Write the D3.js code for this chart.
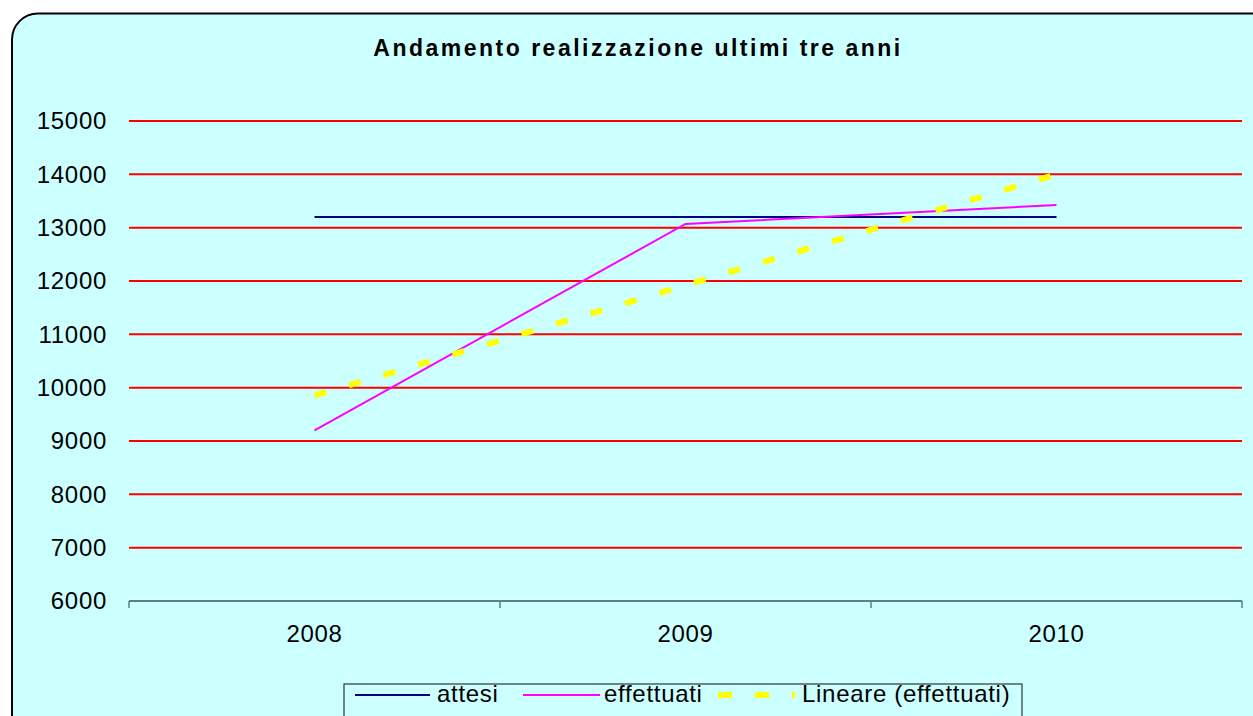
<!DOCTYPE html>
<html>
<head>
<meta charset="utf-8">
<script src="https://cdn.jsdelivr.net/npm/d3@7"></script>
<style>
  html, body { margin: 0; padding: 0; background: #fff; overflow: hidden; }
  text { font-family: "Liberation Sans", Arial, sans-serif; }
</style>
</head>
<body>
<svg width="1253" height="716"></svg>
<script>
let years = ['2008', '2009', '2010'];
let attesi = [13200, 13200, 13200];
let effettuati = [9200, 13070, 13425];
let lineare = [9850, 11920, 14000];
let yTicks = [6000, 7000, 8000, 9000, 10000, 11000, 12000, 13000, 14000, 15000];

let svg = d3.select('svg');

let plotLeft = 129, plotRight = 1242, plotTop = 121, plotBottom = 601;

let x = d3.scaleBand().domain(years).range([plotLeft, plotRight]).padding(0);
let y = d3.scaleLinear().domain([6000, 15000]).range([plotBottom, plotTop]);
let cx = d => x(d) + x.bandwidth() / 2;

// chart frame
svg.append('rect')
    .attr('x', 12).attr('y', 13.5)
    .attr('width', 1320).attr('height', 780)
    .attr('rx', 26).attr('ry', 26)
    .attr('fill', '#CCFFFF')
    .attr('stroke', '#000')
    .attr('stroke-width', 2);

svg.append('text')
    .attr('x', 638).attr('y', 56)
    .attr('text-anchor', 'middle')
    .attr('font-size', 23)
    .attr('font-weight', 'bold')
    .attr('letter-spacing', 2.5)
    .text('Andamento realizzazione ultimi tre anni');

// gridlines
svg.append('g')
    .selectAll('line')
    .data(yTicks.filter(v => v > 6000))
    .enter().append('line')
    .attr('x1', plotLeft).attr('x2', plotRight)
    .attr('y1', d => y(d)).attr('y2', d => y(d))
    .attr('stroke', '#FF0000')
    .attr('stroke-width', 2);

// y labels
svg.append('g')
    .selectAll('text')
    .data(yTicks)
    .enter().append('text')
    .attr('x', 107)
    .attr('y', d => y(d))
    .attr('dy', '0.35em')
    .attr('text-anchor', 'end')
    .attr('font-size', 24)
    .attr('letter-spacing', 0.7)
    .text(d => d);

// x axis
let axis = svg.append('g');
axis.append('line')
    .attr('x1', plotLeft).attr('x2', plotRight)
    .attr('y1', plotBottom).attr('y2', plotBottom)
    .attr('stroke', '#5f7f7a')
    .attr('stroke-width', 2);
axis.selectAll('line.tick')
    .data(years.map(d => x(d)).concat([plotRight]))
    .enter().append('line')
    .attr('class', 'tick')
    .attr('x1', d => d).attr('x2', d => d)
    .attr('y1', plotBottom).attr('y2', plotBottom + 7)
    .attr('stroke', '#5f7f7a')
    .attr('stroke-width', 1.5);
axis.selectAll('text')
    .data(years)
    .enter().append('text')
    .attr('x', d => cx(d))
    .attr('y', 642)
    .attr('text-anchor', 'middle')
    .attr('font-size', 24)
    .attr('letter-spacing', 0.7)
    .text(d => d);

let line = d3.line().x((d, i) => cx(years[i])).y(d => y(d));

svg.append('path')
    .datum(attesi)
    .attr('d', line)
    .attr('fill', 'none')
    .attr('stroke', '#000080')
    .attr('stroke-width', 2);

svg.append('path')
    .datum(effettuati)
    .attr('d', line)
    .attr('fill', 'none')
    .attr('stroke', '#FF00FF')
    .attr('stroke-width', 2);

svg.append('path')
    .datum(lineare)
    .attr('d', line)
    .attr('fill', 'none')
    .attr('stroke', '#FFFF00')
    .attr('stroke-width', 6)
    .attr('stroke-dasharray', '12,24');

// legend
let legend = svg.append('g');
legend.append('rect')
    .attr('x', 344).attr('y', 684)
    .attr('width', 678).attr('height', 60)
    .attr('fill', 'none')
    .attr('stroke', '#333')
    .attr('stroke-width', 1.2);

let items = [
    {name: 'attesi', color: '#000080', w: 2, dash: null, x1: 355, x2: 430, tx: 437},
    {name: 'effettuati', color: '#FF00FF', w: 2, dash: null, x1: 523, x2: 600, tx: 604},
    {name: 'Lineare (effettuati)', color: '#FFFF00', w: 6, dash: '14,23', x1: 718, x2: 795, tx: 802}
];
items.forEach(it => {
    legend.append('line')
        .attr('x1', it.x1).attr('x2', it.x2)
        .attr('y1', 695).attr('y2', 695)
        .attr('stroke', it.color)
        .attr('stroke-width', it.w)
        .attr('stroke-dasharray', it.dash);
    legend.append('text')
        .attr('x', it.tx).attr('y', 702)
        .attr('font-size', 24)
        .attr('letter-spacing', 0.7)
        .text(it.name);
});
</script>
</body>
</html>
